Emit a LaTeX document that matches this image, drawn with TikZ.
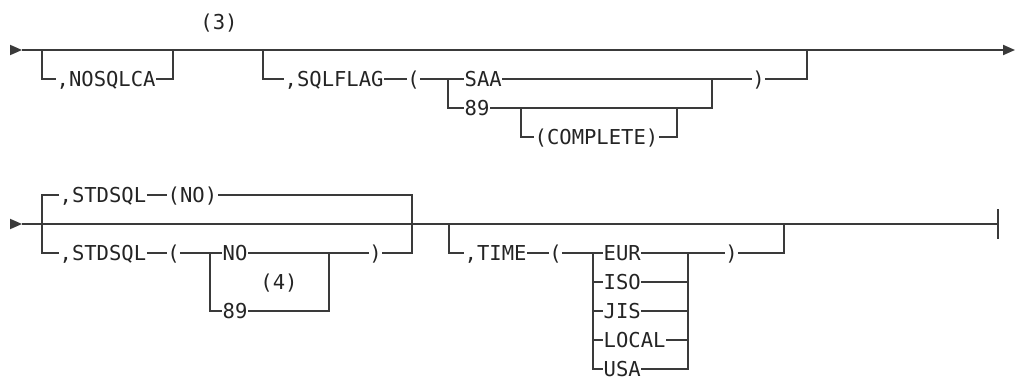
\documentclass[tikz,border=0pt]{standalone}
\usepackage{fontspec}
\usepackage{tikz}
\usetikzlibrary{arrows.meta}
\newfontfamily\railfont{DejaVu Sans Mono}
\definecolor{rrLine}{RGB}{58,58,58}
\definecolor{rrText}{RGB}{36,36,36}

\begin{document}
\begin{tikzpicture}[x=0.75pt,y=0.75pt,
    railLine/.style={rrLine, line width=1.1pt},
    railTip/.style={-{Triangle[length=9pt,width=7.6pt]}},
    railWord/.style={text=rrText, font=\railfont\fontsize{15.4}{18}\selectfont,
        inner xsep=0.3pt, inner ysep=0pt, text height=11.2pt, text depth=0pt, anchor=west},
    railParen/.style={railWord, inner xsep=0pt},
    railNote/.style={railWord, anchor=center}]

\useasboundingbox (0,0) rectangle (1015,-382);

% spacing of the stacked branches
\pgfmathsetmacro{\dy}{29}

% =========================
% Top row: NOSQLCA, SQLFLAG
% =========================
\begin{scope}[shift={(0,-50)}]
    \coordinate (s1) at (10,0);
    \coordinate (m1) at (22,0);
    \coordinate (e1) at (1015,0);
    \draw[railLine, railTip] (s1) -- (m1);
    \draw[railLine, railTip] (m1) -- (e1);

    \node[railWord] (nosqlca) at (56,-\dy) {,NOSQLCA};
    \node[railNote] (n3) at (219,28) {(3)};
    \coordinate (a1) at (42,0);
    \coordinate (a2) at (173,0);
    \draw[railLine] (a1) |- (nosqlca.west);
    \draw[railLine] (nosqlca.east) -| (a2);

    \node[railWord] (sqlflag) at (284,-\dy) {,SQLFLAG};
    \node[railParen] (lp1) at (407,-\dy) {(};
    \node[railWord] (saa) at (464,-\dy) {SAA};
    \node[railWord] (v89) at (464,-2*\dy) {89};
    \node[railWord] (cmpl) at (534,-3*\dy) {(COMPLETE)};
    \node[railParen] (rp1) at (752,-\dy) {)};
    \coordinate (b1) at (263,0);
    \coordinate (b2) at (448,-\dy);
    \coordinate (b3) at (712,-\dy);
    \coordinate (b4) at (807,0);
    \coordinate (c1) at (521,-2*\dy);
    \coordinate (c2) at (677,-2*\dy);
    \draw[railLine] (b1) |- (sqlflag.west);
    \draw[railLine] (sqlflag.east) -- (lp1.west);
    \draw[railLine] (lp1.east) -- (saa.west);
    \draw[railLine] (b2) |- (v89.west);
    \draw[railLine] (saa.east) -- (b3) -- (rp1.west);
    \draw[railLine] (v89.east) -| (b3);
    \draw[railLine] (rp1.east) -| (b4);
    \draw[railLine] (c1) |- (cmpl.west);
    \draw[railLine] (cmpl.east) -| (c2);
\end{scope}

% =========================
% Bottom row: STDSQL, TIME
% =========================
\begin{scope}[shift={(0,-224)}]
    \coordinate (s2) at (10,0);
    \coordinate (m2) at (22,0);
    \coordinate (e2) at (998,0);
    \coordinate (t1) at (998,15);
    \coordinate (t2) at (998,-15);
    \draw[railLine, railTip] (s2) -- (m2);
    \draw[railLine] (m2) -- (e2);
    \draw[railLine, line width=1.6pt] (t1) -- (t2);

    \node[railWord] (stdA) at (59,\dy) {,STDSQL};
    \node[railWord] (stdNo) at (167,\dy) {(NO)};
    \node[railWord] (stdB) at (59,-\dy) {,STDSQL};
    \node[railParen] (lp2) at (167,-\dy) {(};
    \node[railWord] (no) at (222,-\dy) {NO};
    \node[railWord] (v89b) at (222,-3*\dy) {89};
    \node[railParen] (rp2) at (369,-\dy) {)};
    \node[railNote] (n4) at (279,-2*\dy) {(4)};
    \coordinate (k2) at (42,-\dy);
    \coordinate (k3) at (412,-\dy);
    \coordinate (k4) at (210,-\dy);
    \coordinate (k5) at (329,-\dy);
    \draw[railLine] (stdA.west) -| (k2) -- (stdB.west);
    \draw[railLine] (stdA.east) -- (stdNo.west);
    \draw[railLine] (stdNo.east) -| (k3) -- (rp2.east);
    \draw[railLine] (stdB.east) -- (lp2.west);
    \draw[railLine] (lp2.east) -- (no.west);
    \draw[railLine] (k4) |- (v89b.west);
    \draw[railLine] (no.east) -- (k5) -- (rp2.west);
    \draw[railLine] (v89b.east) -| (k5);

    \node[railWord] (time) at (464,-\dy) {,TIME};
    \node[railParen] (lp3) at (549,-\dy) {(};
    \node[railWord] (eur) at (603,-\dy) {EUR};
    \node[railWord] (iso) at (603,-2*\dy) {ISO};
    \node[railWord] (jis) at (603,-3*\dy) {JIS};
    \node[railWord] (local) at (603,-4*\dy) {LOCAL};
    \node[railWord] (usa) at (603,-5*\dy) {USA};
    \node[railParen] (rp3) at (725,-\dy) {)};
    \coordinate (g1) at (449,0);
    \coordinate (g2) at (593,-\dy);
    \coordinate (g3) at (688,-\dy);
    \coordinate (g4) at (784,0);
    \draw[railLine] (g1) |- (time.west);
    \draw[railLine] (time.east) -- (lp3.west);
    \draw[railLine] (lp3.east) -- (eur.west);
    \draw[railLine] (g2) |- (usa.west);
    \foreach \opt in {iso,jis,local}
        \draw[railLine] (g2 |- \opt.west) -- (\opt.west);
    \draw[railLine] (eur.east) -- (g3) -- (rp3.west);
    \draw[railLine] (g3) |- (usa.east);
    \foreach \opt in {iso,jis,local}
        \draw[railLine] (\opt.east) -- (g3 |- \opt.east);
    \draw[railLine] (rp3.east) -| (g4);
\end{scope}

\end{tikzpicture}
\end{document}
